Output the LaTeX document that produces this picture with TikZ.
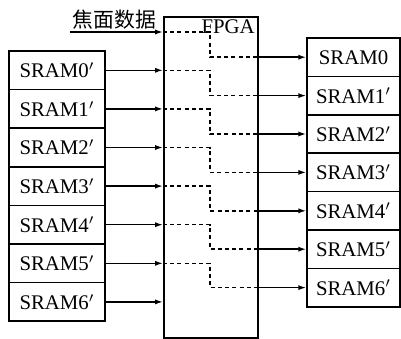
\documentclass[tikz,border=0pt]{standalone}
\usepackage{fontspec}
\setmainfont{Liberation Serif}
\newfontfamily\cjk{Noto Sans CJK SC}
\usetikzlibrary{arrows.meta}
\begin{document}
\begin{tikzpicture}[x=0.5pt,y=-0.5pt, font=\fontsize{10.4}{12}\selectfont, line width=0.75pt,
  sram/.style={draw, minimum width=48pt, minimum height=19.3pt, inner sep=0pt},
  arr/.style={-{Latex[length=4pt,width=2.6pt]}},
  route/.style={dash pattern=on 2pt off 1.6pt}]
\useasboundingbox (0,0) rectangle (401,338);
\node[draw, minimum width=47pt, minimum height=160.5pt, inner sep=0pt, anchor=north west] (fpga) at (163,16) {};
\node[anchor=north east, inner sep=1.5pt] (fpgalabel) at (fpga.north east) {FPGA};
\coordinate (in) at (70,32);
\coordinate (mid) at (210,0);
\node[above right, inner sep=1pt] (inlabel) at (in) {\cjk 焦面数据};
\draw[arr] (in) -- (in -| fpga.west);
\coordinate (s0) at (in);
\foreach \i [evaluate=\i as \j using int(\i+1)] in {0,...,6} {
  \node[sram] (l\i) at (57,70.3+38.6*\i) {SRAM\i$'$};
  \node[sram, minimum width=46.5pt, minimum height=19.2pt] (r\i) at (353.5,57.2+38.4*\i)
    {SRAM\i\ifnum\i>0 $'$\fi};
  \draw[arr] (l\i.east) -- (l\i.east -| fpga.west);
  \coordinate (s\j) at (l\i.east);
}
% routes through the FPGA
\foreach \i in {0,...,6} {
  \draw[route] (s\i -| fpga.west) -- (s\i -| mid) -- (r\i.west -| mid) -- (r\i.west -| fpga.east);
  \draw[arr] (r\i.west -| fpga.east) -- (r\i.west);
}
\end{tikzpicture}
\end{document}
